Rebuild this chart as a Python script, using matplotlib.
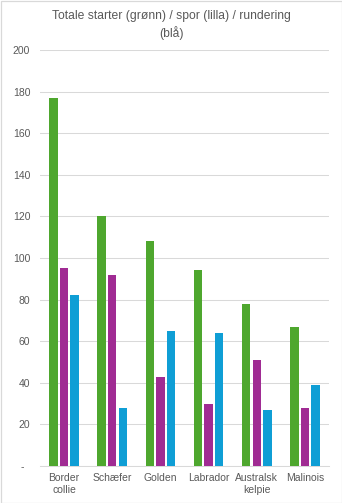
import matplotlib
matplotlib.use("Agg")
import matplotlib.pyplot as plt
import numpy as np
from matplotlib.patches import Rectangle

categories = ["Border\ncollie", "Schæfer", "Golden", "Labrador", "Australsk\nkelpie", "Malinois"]
totale = [177, 120, 108, 94, 78, 67]
spor = [95, 92, 43, 30, 51, 28]
rundering = [82, 28, 65, 64, 27, 39]
yticks = [0, 20, 40, 60, 80, 100, 120, 140, 160, 180, 200]
ytick_labels = ["-  "] + [str(v) for v in yticks[1:]]
title = "Totale starter (grønn) / spor (lilla) / rundering\n(blå)"

plt.rcParams['font.family'] = ['Liberation Sans', 'DejaVu Sans']
txt = "#595959"
grid = "#D9D9D9"

W, H = 342, 503
fig = plt.figure(figsize=(W/100, H/100), dpi=100)
ax = fig.add_axes([40/W, 1-466/H, (329-40)/W, (466-50)/H])

x = np.arange(len(categories))
bw = 0.176
off = 0.22
ax.bar(x - off, totale, width=bw, color="#4EA72E", zorder=3)
ax.bar(x, spor, width=bw, color="#A02B93", zorder=3)
ax.bar(x + off, rundering, width=bw, color="#0F9ED5", zorder=3)

ax.set_xlim(-0.5, len(categories) - 0.5)
ax.set_ylim(0, 200)
ax.set_yticks(yticks)
ax.set_yticklabels(ytick_labels)
ax.set_xticks(x)
ax.set_xticklabels(categories, linespacing=1.25)
ax.tick_params(axis='both', length=0, colors=txt, labelsize=7.5)
ax.tick_params(axis='y', pad=7.0)
ax.tick_params(axis='x', pad=5.0)
ax.yaxis.grid(True, color=grid, linewidth=0.75, zorder=0)
for s in ["top", "right", "left"]:
    ax.spines[s].set_visible(False)
ax.spines["bottom"].set_color(grid)
ax.spines["bottom"].set_linewidth(0.75)

fig.text(0.5, 1-10.5/H, title, ha="center", va="top", fontsize=8.7, color=txt, linespacing=1.3)

fig.patches.append(Rectangle((0.5/W, 0.5/H), 1-1/W, 1-1/H, transform=fig.transFigure,
                             fill=False, edgecolor=grid, linewidth=0.9))

fig.savefig("out.png", dpi=100)
